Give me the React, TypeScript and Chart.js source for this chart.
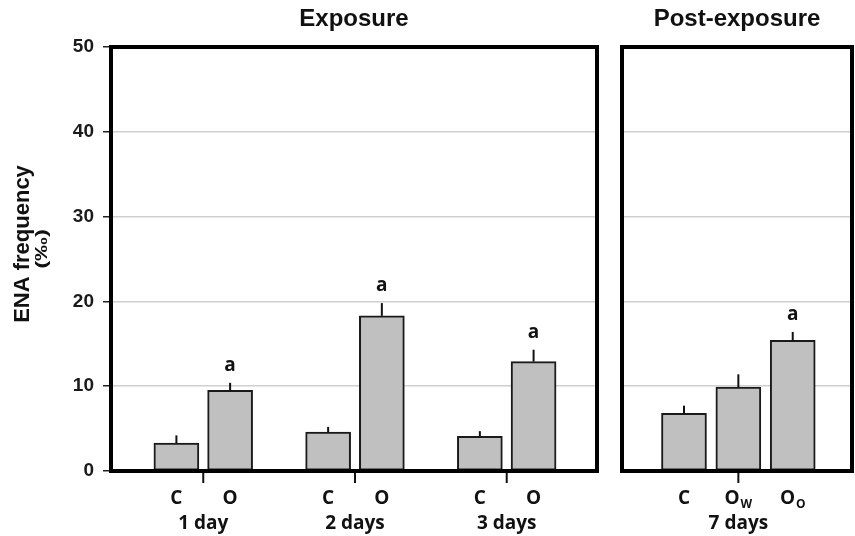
import { useEffect, useRef } from "react";
import { Chart, registerables } from "chart.js";

Chart.register(...registerables);

const W = 855;
const H = 536;

// ---- data ----
const exposureGroups = ["1 day", "2 days", "3 days"];
const exposureBarLabels = ["C", "O"];
const controlMeans = [3.3, 4.6, 4.1];
const controlErrors = [0.9, 0.6, 0.6];
const controlLetters = ["", "", ""];
const exposedMeans = [9.5, 18.3, 12.9];
const exposedErrors = [0.9, 1.5, 1.4];
const exposedLetters = ["a", "a", "a"];

const postGroup = "7 days";
const postLabelMain = ["C", "O", "O"];
const postLabelSub = ["", "W", "O"];
const postMeans = [6.8, 9.9, 15.4];
const postErrors = [0.9, 1.5, 1.0];
const postLetters = ["", "", "a"];

const yMin = 0;
const yMax = 50;
const yStep = 10;

const titleLeft = "Exposure";
const titleRight = "Post-exposure";
const yTitle = "ENA frequency";
const yUnit = "(‰)";

const PAIR_OFFSET = 0.177;

const ARIAL = "'Liberation Sans', Arial, sans-serif";
const LABEL_FONT = "'Open Sans', 'Noto Sans', sans-serif";

const decorPlugin = {
  id: "decor",
  afterDatasetsDraw(chart: any) {
    const ctx = chart.ctx;
    const ys = chart.scales.y;
    const xs = chart.scales.x;
    const ca = chart.chartArea;
    const opts = chart.options.plugins.decor;
    ctx.save();
    // error bars + letters + bar labels
    chart.data.datasets.forEach((ds: any, di: number) => {
      const meta = chart.getDatasetMeta(di);
      meta.data.forEach((bar: any, i: number) => {
        const v = ds.data[i].y;
        const top = ys.getPixelForValue(v + ds.errors[i]);
        ctx.strokeStyle = "#111";
        ctx.lineWidth = 2;
        ctx.beginPath();
        ctx.moveTo(bar.x, bar.y);
        ctx.lineTo(bar.x, top);
        ctx.stroke();
        if (ds.letters[i]) {
          ctx.fillStyle = "#111";
          ctx.font = `bold 19px ${LABEL_FONT}`;
          ctx.textAlign = "center";
          ctx.textBaseline = "alphabetic";
          ctx.fillText(ds.letters[i], bar.x, top - 12);
        }
        // x label (with optional subscript)
        const main = ds.mainLabels[i];
        const sub = ds.subLabels ? ds.subLabels[i] : "";
        ctx.fillStyle = "#111";
        ctx.textBaseline = "alphabetic";
        ctx.textAlign = "left";
        ctx.font = `bold 19px ${LABEL_FONT}`;
        const wMain = ctx.measureText(main).width;
        ctx.font = `bold 12px ${LABEL_FONT}`;
        const wSub = sub ? ctx.measureText(sub).width + 1 : 0;
        const x0 = bar.x - (wMain + wSub) / 2;
        ctx.font = `bold 19px ${LABEL_FONT}`;
        ctx.fillText(main, x0, 504);
        if (sub) {
          ctx.font = `bold 12px ${LABEL_FONT}`;
          ctx.fillText(sub, x0 + wMain + 1, 508);
        }
      });
    });
    // group divider ticks + group labels
    opts.groups.forEach((g: any) => {
      const px = xs.getPixelForValue(g.at);
      ctx.strokeStyle = "#111";
      ctx.lineWidth = 2;
      ctx.beginPath();
      ctx.moveTo(px, ca.bottom);
      ctx.lineTo(px, ca.bottom + 12);
      ctx.stroke();
      ctx.fillStyle = "#111";
      ctx.font = `bold 19px ${LABEL_FONT}`;
      ctx.textAlign = "center";
      ctx.textBaseline = "alphabetic";
      ctx.fillText(g.label, px, 529);
    });
    // box
    ctx.strokeStyle = "#000";
    ctx.lineWidth = 4;
    ctx.strokeRect(ca.left, ca.top, ca.right - ca.left, ca.bottom - ca.top);
    // panel title
    ctx.fillStyle = "#111";
    ctx.font = `bold 24px ${ARIAL}`;
    ctx.textAlign = "center";
    ctx.textBaseline = "middle";
    ctx.fillText(opts.title, (ca.left + ca.right) / 2, 19);
    // y title
    if (opts.yTitle) {
      ctx.save();
      ctx.translate(23, 244);
      ctx.rotate(-Math.PI / 2);
      ctx.font = `bold 22px ${ARIAL}`;
      ctx.textAlign = "center";
      ctx.textBaseline = "middle";
      ctx.fillText(opts.yTitle, 0, 0);
      ctx.restore();
      ctx.save();
      ctx.translate(42, 249);
      ctx.rotate(-Math.PI / 2);
      ctx.scale(1.4, 1);
      ctx.font = `bold 17px ${ARIAL}`;
      ctx.textAlign = "center";
      ctx.textBaseline = "middle";
      ctx.fillText(opts.yUnit, 0, 0);
      ctx.restore();
    }
    ctx.restore();
  },
};

function barStyle() {
  return {
    backgroundColor: "#c0c0c0",
    borderColor: "#1a1a1a",
    borderWidth: 2,
    borderSkipped: false,
    barThickness: 45,
    grouped: false,
  };
}

function makeYScale(showLabels: boolean, width: number) {
  return {
    type: "linear",
    min: yMin,
    max: yMax,
    ticks: {
      display: showLabels,
      stepSize: yStep,
      color: "#1a1a1a",
      padding: 9,
      font: { family: ARIAL, weight: "bold", size: 19 },
    },
    grid: {
      color: "#cfcfcf",
      lineWidth: 1.5,
      drawTicks: showLabels,
      tickLength: 8,
      tickColor: "#222",
      tickWidth: 1.5,
    },
    border: { display: false },
    afterFit: (scale: any) => {
      scale.width = width;
    },
  };
}

export default function App() {
  const leftRef = useRef<HTMLCanvasElement>(null);
  const rightRef = useRef<HTMLCanvasElement>(null);

  useEffect(() => {
    const left = new Chart(leftRef.current as HTMLCanvasElement, {
      type: "bar",
      data: {
        datasets: [
          {
            ...barStyle(),
            data: controlMeans.map((v, i) => ({ x: i - PAIR_OFFSET, y: v })),
            errors: controlErrors,
            letters: controlLetters,
            mainLabels: controlMeans.map(() => exposureBarLabels[0]),
          } as any,
          {
            ...barStyle(),
            data: exposedMeans.map((v, i) => ({ x: i + PAIR_OFFSET, y: v })),
            errors: exposedErrors,
            letters: exposedLetters,
            mainLabels: exposedMeans.map(() => exposureBarLabels[1]),
          } as any,
        ],
      },
      options: {
        responsive: false,
        animation: false,
        events: [],
        layout: { padding: { left: 0, right: W - 597, top: 47, bottom: H - 471 } },
        scales: {
          x: { type: "linear", display: false, offset: false, min: -0.608, max: 2.595 },
          y: makeYScale(true, 111) as any,
        },
        plugins: {
          legend: { display: false },
          tooltip: { enabled: false },
          decor: {
            title: titleLeft,
            yTitle: yTitle,
            yUnit: yUnit,
            groups: exposureGroups.map((g, i) => ({ at: i, label: g })),
          },
        } as any,
      },
      plugins: [decorPlugin],
    });

    const right = new Chart(rightRef.current as HTMLCanvasElement, {
      type: "bar",
      data: {
        datasets: [
          {
            ...barStyle(),
            data: postMeans.map((v, i) => ({ x: i - 1, y: v })),
            errors: postErrors,
            letters: postLetters,
            mainLabels: postLabelMain,
            subLabels: postLabelSub,
          } as any,
        ],
      },
      options: {
        responsive: false,
        animation: false,
        events: [],
        layout: { padding: { left: 0, right: W - 852, top: 47, bottom: H - 471 } },
        scales: {
          x: { type: "linear", display: false, offset: false, min: -2.14, max: 2.09 },
          y: makeYScale(false, 622) as any,
        },
        plugins: {
          legend: { display: false },
          tooltip: { enabled: false },
          decor: {
            title: titleRight,
            groups: [{ at: 0, label: postGroup }],
          },
        } as any,
      },
      plugins: [decorPlugin],
    });

    return () => {
      left.destroy();
      right.destroy();
    };
  }, []);

  const canvasStyle: any = { position: "absolute", left: 0, top: 0, width: W, height: H };
  return (
    <div style={{ position: "fixed", left: 0, top: 0, width: W, height: H, background: "#fff" }}>
      <canvas ref={leftRef} width={W} height={H} style={canvasStyle} />
      <canvas ref={rightRef} width={W} height={H} style={canvasStyle} />
    </div>
  );
}
